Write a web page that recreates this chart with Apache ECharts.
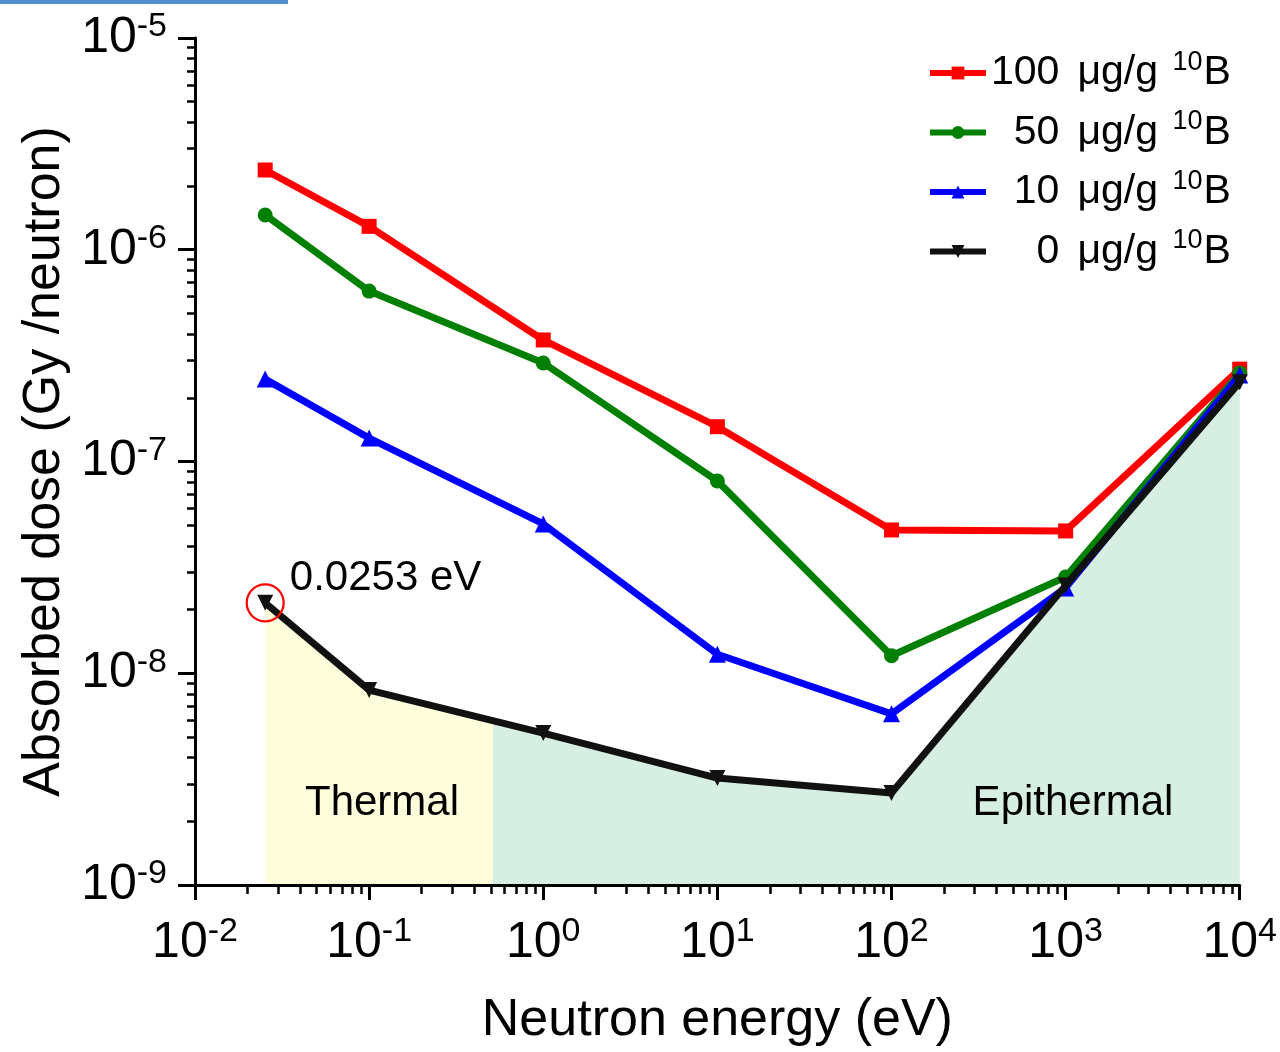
<!DOCTYPE html>
<html><head><meta charset="utf-8">
<script src="https://cdn.jsdelivr.net/npm/echarts@6/dist/echarts.min.js"></script>
<style>html,body{margin:0;padding:0;background:#fff}#chart{width:1280px;height:1052px}</style>
</head><body><div id="chart"></div>
<script>
// ---- data ----
const energy  = [0.0253, 0.1, 1, 10, 100, 1000, 10000];          // eV
const dose100 = [2.38e-6, 1.29e-6, 3.75e-7, 1.46e-7, 4.75e-8, 4.70e-8, 2.73e-7];
const dose50  = [1.46e-6, 6.38e-7, 2.92e-7, 8.09e-8, 1.21e-8, 2.85e-8, 2.62e-7];
const dose10  = [2.45e-7, 1.29e-7, 5.07e-8, 1.23e-8, 6.43e-9, 2.53e-8, 2.56e-7];
const dose0   = [2.15e-8, 8.33e-9, 5.22e-9, 3.20e-9, 2.72e-9, 2.60e-8, 2.37e-7];
const seriesNames = ['100', '50', '10', '0'];
const unitText = 'μg/g ';
const isoSup = '10';
const isoEl = 'B';
// thermal / epithermal boundary on the 0 μg/g curve
const boundaryEnergy = 0.514;
const boundaryDose = 6.0e-9;
const xTickExps = [-2, -1, 0, 1, 2, 3, 4];
const yTickExps = [-9, -8, -7, -6, -5];
const annotText = '0.0253 eV';
const thermalText = 'Thermal';
const epithermalText = 'Epithermal';

// ---- derived ----
const FONT = "'Liberation Sans', Arial, sans-serif";
const pairs = (ys) => energy.map((e, i) => [e, ys[i]]);
const blackPairs = pairs(dose0);
const thermalArea = blackPairs.filter(p => p[0] < boundaryEnergy).concat([[boundaryEnergy, boundaryDose]]);
const epiArea = [[boundaryEnergy, boundaryDose]].concat(blackPairs.filter(p => p[0] > boundaryEnergy));

function minorLogs(exps) {
  const out = [];
  for (let i = 0; i < exps.length - 1; i++) {
    for (let k = 2; k <= 9; k++) out.push(exps[i] + Math.log10(k));
  }
  return out;
}
const minorX = minorLogs(xTickExps);
const minorY = minorLogs(yTickExps);

const tickRich = {
  b: { fontSize: 50, lineHeight: 56, fontFamily: FONT, color: '#000' },
  s: { fontSize: 34, lineHeight: 30, verticalAlign: 'top', fontFamily: FONT, color: '#000' }
};
const expFormatter = (v) => {
  const e = Math.round(Math.log10(v));
  return '{b|10}{s|' + e + '}';
};

const colors = ['#ff0000', '#008000', '#0000ff', '#111111'];
const symbols = ['rect', 'circle', 'triangle', 'triangle'];
const rotates = [0, 0, 0, 180];
const sizes = [15, 15, 17, 16];
const doses = [dose100, dose50, dose10, dose0];

const mainSeries = seriesNames.map((n, i) => ({
  name: n,
  type: 'line',
  data: pairs(doses[i]),
  symbol: symbols[i],
  symbolRotate: rotates[i],
  symbolSize: sizes[i],
  showSymbol: true,
  lineStyle: { width: 7, color: colors[i] },
  itemStyle: { color: colors[i], opacity: 1 },
  emphasis: { disabled: true },
  z: i === 3 ? 6 : 5
}));

const axisLineStyle = { color: '#000', width: 3 };
const LEG_FS = 41;
const digitW = LEG_FS * 0.556;
const legendFormatter = (name) => {
  const pad = 3 - name.length;
  const padTok = pad > 0 ? '{p' + pad + '| }' : '';
  return padTok + '{n|' + name + '}{g| }{u|' + unitText + '}{s|' + isoSup + '}{u|' + isoEl + '}';
};

const option = {
  animation: false,
  backgroundColor: '#fff',
  grid: { left: 195, right: 40, top: 38, bottom: 167 },
  legend: {
    orient: 'vertical',
    left: 922,
    top: 44,
    itemWidth: 56,
    itemHeight: 16,
    itemGap: 15,
    itemTextGap: 11,
    data: seriesNames,
    lineStyle: { width: 6 },
    formatter: legendFormatter,
    textStyle: {
      fontFamily: FONT, fontSize: LEG_FS, color: '#000',
      rich: {
        p1: { width: digitW, lineHeight: 48, fontSize: LEG_FS, fontFamily: FONT },
        p2: { width: digitW * 2, lineHeight: 48, fontSize: LEG_FS, fontFamily: FONT },
        g: { width: 18, lineHeight: 48, fontSize: LEG_FS, fontFamily: FONT },
        n: { fontSize: LEG_FS, lineHeight: 48, fontFamily: FONT, color: '#000' },
        u: { fontSize: LEG_FS, lineHeight: 48, fontFamily: FONT, color: '#000' },
        s: { fontSize: 27, lineHeight: 28, verticalAlign: 'top', fontFamily: FONT, color: '#000', padding: [0, 1, 0, 3] }
      }
    }
  },
  xAxis: [
    {
      type: 'log', logBase: 10, min: 0.01, max: 10000, z: 10,
      axisLine: { show: true, onZero: false, lineStyle: axisLineStyle },
      axisTick: { show: true, length: 15, lineStyle: { color: '#000', width: 3 } },
      axisLabel: { formatter: expFormatter, margin: 30, rich: tickRich, color: '#000' },
      splitLine: { show: false },
      name: 'Neutron energy (eV)',
      nameLocation: 'middle',
      nameGap: 110,
      nameTextStyle: { fontFamily: FONT, fontSize: 52, color: '#000' }
    },
    {
      type: 'value', min: -2, max: 4, position: 'bottom', z: 10,
      axisLine: { show: false, onZero: false },
      axisLabel: { show: false },
      splitLine: { show: false },
      axisTick: { show: true, customValues: minorX, length: 9, lineStyle: { color: '#000', width: 2.5 } }
    }
  ],
  yAxis: [
    {
      type: 'log', logBase: 10, min: 1e-9, max: 1e-5, z: 10,
      axisLine: { show: true, onZero: false, lineStyle: axisLineStyle },
      axisTick: { show: true, length: 17, lineStyle: { color: '#000', width: 3 } },
      axisLabel: { formatter: expFormatter, margin: 28, rich: tickRich, color: '#000' },
      splitLine: { show: false },
      name: 'Absorbed dose (Gy /neutron)',
      nameLocation: 'middle',
      nameGap: 116,
      nameTextStyle: { fontFamily: FONT, fontSize: 52, color: '#000' }
    },
    {
      type: 'value', min: -9, max: -5, position: 'left', z: 10,
      axisLine: { show: false, onZero: false },
      axisLabel: { show: false },
      splitLine: { show: false },
      axisTick: { show: true, customValues: minorY, length: 8, lineStyle: { color: '#000', width: 2.5 } }
    }
  ],
  series: [
    {
      name: 'thermal-area', type: 'line', data: thermalArea, symbol: 'none', silent: true,
      lineStyle: { width: 0, opacity: 0 }, areaStyle: { color: '#fefedc', opacity: 1, origin: 'start' }, z: 1
    },
    {
      name: 'epithermal-area', type: 'line', data: epiArea, symbol: 'none', silent: true,
      lineStyle: { width: 0, opacity: 0 }, areaStyle: { color: '#d6efe2', opacity: 1, origin: 'start' }, z: 1
    },
    ...mainSeries,
    {
      name: 'annot', type: 'scatter', data: [blackPairs[0]], symbol: 'circle', symbolSize: 37, silent: true,
      itemStyle: { color: 'rgba(255,255,255,0)', borderColor: '#ff0000', borderWidth: 2.2, opacity: 1 },
      label: { show: true, position: 'right', distance: 5, offset: [0, -24], formatter: annotText,
               fontFamily: FONT, fontSize: 42, color: '#000', opacity: 1 },
      z: 10
    }
  ],
  graphic: [
    { type: 'rect', left: 0, top: 0, shape: { width: 288, height: 4 }, style: { fill: '#4f8fd0' } },
    { type: 'text', x: 382, y: 803, style: { text: thermalText, font: '42px ' + FONT, fill: '#000', textAlign: 'center', textVerticalAlign: 'middle' }, z: 20 },
    { type: 'text', x: 1073, y: 803, style: { text: epithermalText, font: '42px ' + FONT, fill: '#000', textAlign: 'center', textVerticalAlign: 'middle' }, z: 20 }
  ]
};

const chart = echarts.init(document.getElementById('chart'), null, { renderer: 'canvas' });
chart.setOption(option);
</script>
</body></html>
